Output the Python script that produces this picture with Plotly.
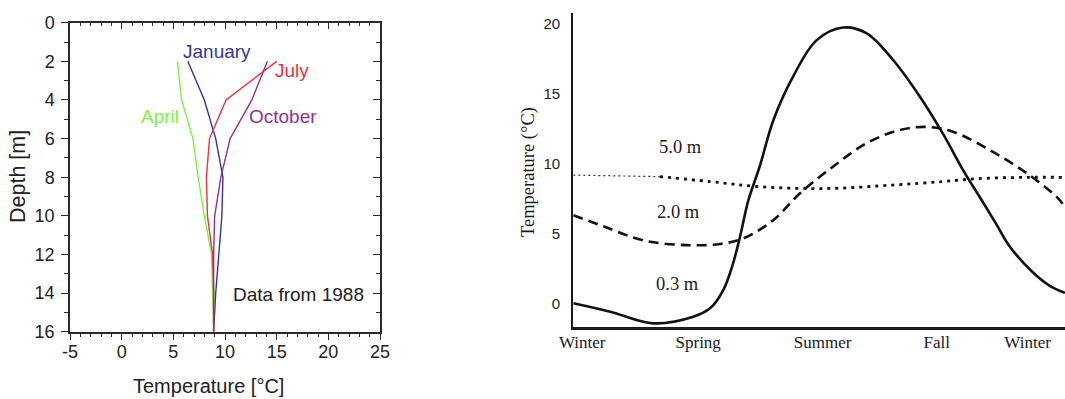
import plotly.graph_objects as go

# ---- Left panel: lake temperature profiles (1988) ----
depth = [2, 4, 6, 8, 10, 12, 14, 16]
temp_january = [6.4, 8.0, 9.1, 9.8, 9.7, 9.4, 9.1, 8.9]
temp_april = [5.4, 5.8, 6.9, 7.4, 8.0, 8.7, 8.8, 8.9]
temp_july = [15.0, 10.1, 8.5, 8.2, 8.3, 8.8, 8.9, 8.9]
temp_october = [14.1, 12.6, 10.5, 9.6, 9.0, 8.9, 8.9, 8.9]
temp_ticks = [-5, 0, 5, 10, 15, 20, 25]
temp_tick_text = ["-5", "0", "5", "10", "15", "20", "25"]

# ---- Right panel: seasonal soil temperature at three depths ----
season_ticks = [1.8, 25.4, 50.7, 73.9, 92.4]
season_labels = ["Winter", "Spring", "Summer", "Fall", "Winter"]

pos_03 = [0, 7.5, 16.3, 24.4, 27.8, 30.5, 32.5, 34.0, 35.6, 37.9, 40.7,
          44.7, 49.5, 54.9, 59.6, 65.0, 70.5, 75.2, 79.3, 83.0, 86.0, 88.8, 93.5, 96.9, 100]
temp_03 = [0, -0.6, -1.43, -0.96, -0.36, 0.95, 2.86, 4.9, 7.36, 9.76, 13.1,
           16.2, 18.8, 19.7, 19.3, 17.4, 14.76, 12.1, 9.5, 7.4, 5.67, 4.04, 2.2, 1.25, 0.75]

pos_20 = [0, 6.1, 14.2, 23.0, 29.8, 34.6, 40.7, 46.1, 52.8, 59.6, 66.4, 71.8,
          77.2, 84.7, 92.2, 98.3, 100]
temp_20 = [6.3, 5.5, 4.5, 4.16, 4.24, 4.64, 5.95, 7.86, 9.76, 11.43, 12.38, 12.6,
           12.26, 10.95, 9.3, 7.6, 6.9]

pos_50 = [0, 17.6, 27.8, 37.9, 51.5, 65.0, 75.2, 82, 92.2, 100]
temp_50 = [9.16, 9.05, 8.7, 8.33, 8.2, 8.45, 8.7, 8.9, 9.0, 9.0]

SANS = "Liberation Sans, Arial, sans-serif"
SERIF = "Liberation Serif, Times New Roman, serif"
AXC = "#2b2b2b"

fig = go.Figure()

profiles = [
    ("January", temp_january, "#34349a"),
    ("April", temp_april, "#7cf046"),
    ("July", temp_july, "#e8343c"),
    ("October", temp_october, "#923092"),
]
for name, temps, color in profiles:
    fig.add_trace(go.Scatter(x=temps, y=depth, mode="lines", name=name,
                             line=dict(color=color, width=1.4),
                             xaxis="x", yaxis="y", showlegend=False))

# helper traces so the mirrored (inside-tick) axes are drawn
fig.add_trace(go.Scatter(x=[None], y=[None], xaxis="x3", yaxis="y", showlegend=False, hoverinfo="skip"))
fig.add_trace(go.Scatter(x=[None], y=[None], xaxis="x", yaxis="y3", showlegend=False, hoverinfo="skip"))

# seasonal curves
fig.add_trace(go.Scatter(x=pos_03, y=temp_03, mode="lines", line=dict(color="#111", width=2.6, shape="spline", smoothing=1.0),
                         xaxis="x2", yaxis="y2", showlegend=False))
fig.add_trace(go.Scatter(x=pos_20, y=temp_20, mode="lines", line=dict(color="#111", width=2.6, dash="10px,6px", shape="spline", smoothing=1.0),
                         xaxis="x2", yaxis="y2", showlegend=False))
fig.add_trace(go.Scatter(x=pos_50[:2], y=temp_50[:2], mode="lines", line=dict(color="#333", width=1.2, dash="2px,3px"),
                         xaxis="x2", yaxis="y2", showlegend=False))
fig.add_trace(go.Scatter(x=pos_50[1:], y=temp_50[1:], mode="lines", line=dict(color="#111", width=2.8, dash="3px,5px", shape="spline", smoothing=1.0),
                         xaxis="x2", yaxis="y2", showlegend=False))

left_x_dom = [70 / 1065, 380 / 1065]
left_y_dom = [1 - 331.7 / 399, 1 - 22.7 / 399]
right_x_dom = [573.3 / 1065, 1.0]
right_y_dom = [1 - 326.7 / 399, 1 - 12.7 / 399]

tick_common = dict(showgrid=False, zeroline=False, showline=True, linecolor=AXC, linewidth=1.5,
                   tickcolor=AXC, tickwidth=1.3, ticklen=7, automargin=False)

fig.update_layout(
    width=1065, height=399,
    margin=dict(l=0, r=0, t=0, b=0),
    paper_bgcolor="white", plot_bgcolor="white",
    xaxis=dict(domain=left_x_dom, anchor="y", range=[-5, 25], tickvals=temp_ticks, ticktext=temp_tick_text,
               ticks="outside", minor=dict(dtick=1, ticks="outside", ticklen=4, tickcolor=AXC, tickwidth=1),
               tickfont=dict(family=SANS, size=18, color="#222"), ticklabelstandoff=-4, **tick_common),
    yaxis=dict(domain=left_y_dom, anchor="x", range=[16, 0], tickvals=list(range(0, 17, 2)),
               ticks="outside", minor=dict(dtick=1, ticks="outside", ticklen=4, tickcolor=AXC, tickwidth=1),
               tickfont=dict(family=SANS, size=18, color="#222"), ticklabelstandoff=3, **tick_common),
    xaxis3=dict(overlaying="x", anchor="y", side="top", range=[-5, 25], tickvals=temp_ticks,
                ticks="inside", showticklabels=False,
                minor=dict(dtick=1, ticks="inside", ticklen=4, tickcolor=AXC, tickwidth=1), **tick_common),
    yaxis3=dict(overlaying="y", anchor="x", side="right", range=[16, 0], tickvals=list(range(0, 17, 2)),
                ticks="inside", showticklabels=False,
                minor=dict(dtick=1, ticks="inside", ticklen=4, tickcolor=AXC, tickwidth=1), **tick_common),
    xaxis2=dict(domain=right_x_dom, anchor="y2", range=[0, 100], tickvals=season_ticks, ticktext=season_labels,
                showgrid=False, zeroline=False, showline=True, linecolor="#1a1a1a", linewidth=2.6, ticks="",
                automargin=False,
                tickfont=dict(family=SERIF, size=17, color="#1a1a1a"), ticklabelstandoff=-2),
    yaxis2=dict(domain=right_y_dom, anchor="x2", range=[-1.67, 20.76], tickvals=[0, 5, 10, 15, 20],
                showgrid=False, zeroline=False, showline=True, linecolor="#1a1a1a", linewidth=2.2, ticks="",
                automargin=False,
                tickfont=dict(family=SANS, size=15, color="#222"), ticklabelstandoff=8),
)

ann = [
    dict(text="January", x=217, y=51, color="#34349a", font=SANS, size=19),
    dict(text="July", x=291.5, y=70, color="#e8343c", font=SANS, size=19),
    dict(text="April", x=160, y=117, color="#7cf046", font=SANS, size=19),
    dict(text="October", x=283, y=117, color="#923092", font=SANS, size=19),
    dict(text="Data from 1988", x=298, y=294.5, color="#222", font=SANS, size=19),
    dict(text="Temperature [°C]", x=208.5, y=386, color="#222", font=SANS, size=20),
    dict(text="5.0 m", x=680, y=146.5, color="#1a1a1a", font=SERIF, size=18.5),
    dict(text="2.0 m", x=678, y=211.5, color="#1a1a1a", font=SERIF, size=18.5),
    dict(text="0.3 m", x=677, y=283.5, color="#1a1a1a", font=SERIF, size=18.5),
]
for a in ann:
    fig.add_annotation(text=a["text"], xref="paper", yref="paper",
                       x=a["x"] / 1065, y=1 - a["y"] / 399, xanchor="center", yanchor="middle",
                       showarrow=False, font=dict(family=a["font"], size=a["size"], color=a["color"]))

fig.add_annotation(text="Depth [m]", xref="paper", yref="paper", x=18.5 / 1065, y=1 - 176.5 / 399,
                   xanchor="center", yanchor="middle", textangle=-90, showarrow=False,
                   font=dict(family=SANS, size=21.5, color="#222"))
fig.add_annotation(text="Temperature (°C)", xref="paper", yref="paper", x=528 / 1065, y=1 - 172 / 399,
                   xanchor="center", yanchor="middle", textangle=-90, showarrow=False,
                   font=dict(family=SERIF, size=18.5, color="#1a1a1a"))

fig.write_html("out.html")
